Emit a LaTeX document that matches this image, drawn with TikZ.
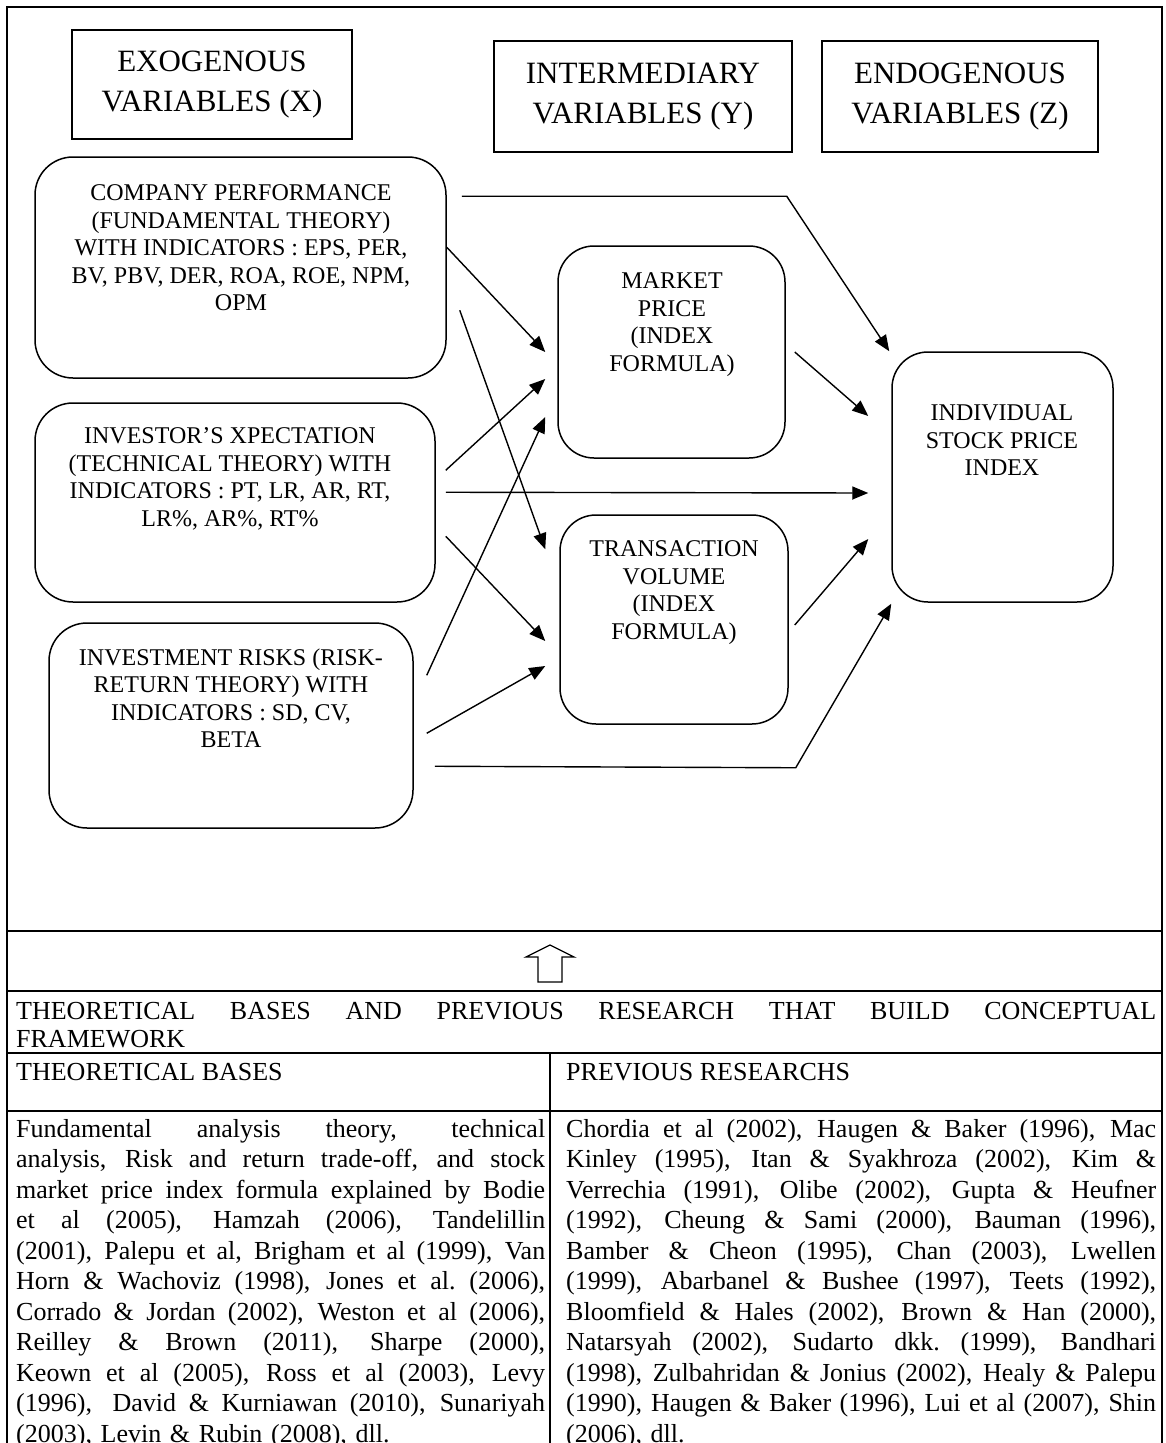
\documentclass[tikz,border=0pt]{standalone}
\usepackage{fontspec}
\setmainfont{Liberation Serif}
\usetikzlibrary{arrows.meta,calc}
\newcommand\jline[2]{\makebox[#1][s]{\spaceskip=0pt\xspaceskip=0pt\relax#2}}
\begin{document}
\begin{tikzpicture}[x=1pt,y=-1pt,
  hdr/.style={draw, line width=1.4pt, inner sep=0pt, align=center, font=\fontsize{31}{40}\selectfont},
  rbox/.style={draw, line width=1.5pt, rounded corners=38pt, inner sep=0pt},
  btxt/.style={anchor=north, inner sep=0pt, align=center, font=\fontsize{24}{27.5}\selectfont},
  arr/.style={line width=1.4pt, -{Triangle[length=16pt,width=13pt]}},
  ttxt/.style={anchor=north west, inner sep=0pt, align=left, font=\fontsize{26}{30.5}\selectfont},
  rule/.style={line width=2.4pt},
]
\useasboundingbox (0,0) rectangle (1166,1443);

% frame and table rules
\draw[line width=2pt] (7,1460) -- (7,7) -- (1162,7) -- (1162,1460);
\draw[rule] (7,931) -- (1162,931);
\draw[rule] (7,991) -- (1162,991);
\draw[rule] (7,1053) -- (1162,1053);
\draw[rule] (7,1111) -- (1162,1111);
\draw[line width=1.5pt] (550,1053) -- (550,1460);

% header boxes
\node[hdr, minimum width=280pt, minimum height=109pt] (exo) at (212,84.5) {EXOGENOUS\\VARIABLES (X)};
\node[hdr, minimum width=298pt, minimum height=111pt] (inter) at (643,96.5) {INTERMEDIARY\\VARIABLES (Y)};
\node[hdr, minimum width=276pt, minimum height=111pt] (endo) at (960,96.5) {ENDOGENOUS\\VARIABLES (Z)};

% rounded boxes
\node[rbox, minimum width=411pt, minimum height=221pt] (comp) at (240.5,267.5) {};
\node[rbox, minimum width=400pt, minimum height=199pt] (inv) at (235,502.5) {};
\node[rbox, minimum width=364pt, minimum height=205pt] (risk) at (231,725.5) {};
\node[rbox, minimum width=227pt, minimum height=212pt, rounded corners=36pt] (mp) at (671.5,352) {};
\node[rbox, minimum width=228pt, minimum height=209pt, rounded corners=36pt] (tv) at (674,619.5) {};
\node[rbox, minimum width=221pt, minimum height=250pt, rounded corners=36pt] (ind) at (1002.5,477) {};

% box texts
\node[btxt] (compt) at (241,184.5) {COMPANY PERFORMANCE\\(FUNDAMENTAL THEORY)\\WITH INDICATORS : EPS, PER,\\BV, PBV, DER, ROA, ROE, NPM,\\OPM};
\node[btxt] (invt) at (230,427.5) {INVESTOR’S XPECTATION\\(TECHNICAL THEORY) WITH\\INDICATORS : PT, LR, AR, RT,\\LR\%, AR\%, RT\%};
\node[btxt] (riskt) at (231,648.5) {INVESTMENT RISKS (RISK-\\RETURN THEORY) WITH\\INDICATORS : SD, CV,\\BETA};
\node[btxt] (mpt) at (672,272.5) {MARKET\\PRICE\\(INDEX\\FORMULA)};
\node[btxt] (tvt) at (674,540.5) {TRANSACTION\\VOLUME\\(INDEX\\FORMULA)};
\node[btxt] (indt) at (1002,404.5) {INDIVIDUAL\\STOCK PRICE\\INDEX};

% connectors
\draw[arr] ($(comp.north east)+(15,40)$) -- ($(mp.north east)+(1,-49)$) -- ($(ind.north west)+(-2,0)$);
\draw[arr] ($(comp.north east)+(0,91)$) -- ($(mp.west)+(-12,0)$);
\draw[arr] ($(comp.north east)+(13,154)$) -- ($(tv.north west)+(-14,35)$);
\draw[arr] ($(inv.north east)+(10,68)$) -- ($(mp.west)+(-12,27)$);
\draw[arr] ($(inv.north east)+(10,90)$) -- ($(ind.west)+(-23,16)$);
\draw[arr] ($(inv.north east)+(10,134)$) -- ($(tv.west)+(-14,21.5)$);
\draw[arr] ($(risk.north east)+(13,53)$) -- ($(mp.west)+(-12,65)$);
\draw[arr] ($(risk.north east)+(13,111)$) -- ($(tv.west)+(-14,46.5)$);
\draw[arr] ($(risk.north east)+(21,144)$) -- ($(tv.south east)+(7,43)$) -- ($(ind.south west)+(0,1)$);
\draw[arr] ($(mp.east)+(9,0)$) -- ($(ind.west)+(-23,-61)$);
\draw[arr] ($(tv.east)+(6,5.5)$) -- ($(ind.west)+(-23,62)$);

% hollow up arrow
\draw[line width=1.3pt, fill=white] (550,945) -- (574,957) -- (562,957) -- (562,982) -- (538,982) -- (538,957) -- (526,957) -- cycle;

% table texts
\node[ttxt, text width=1140pt, font=\fontsize{26}{28}\selectfont] (head) at (16,1002) {\jline{1140pt}{THEORETICAL BASES AND PREVIOUS RESEARCH THAT BUILD CONCEPTUAL}\\FRAMEWORK};
\node[ttxt] (thb) at (16,1063) {THEORETICAL BASES};
\node[ttxt] (prh) at (566,1063) {PREVIOUS RESEARCHS};
\node[ttxt, text width=529pt] (lbody) at (16,1119) {%
\jline{529pt}{Fundamental analysis theory, technical}\\
\jline{529pt}{analysis, Risk and return trade-off, and stock}\\
\jline{529pt}{market price index formula explained by Bodie}\\
\jline{529pt}{et al (2005), Hamzah (2006), Tandelillin}\\
\jline{529pt}{(2001), Palepu et al, Brigham et al (1999), Van}\\
\jline{529pt}{Horn \& Wachoviz (1998), Jones et al.\ (2006),}\\
\jline{529pt}{Corrado \& Jordan (2002), Weston et al (2006),}\\
\jline{529pt}{Reilley \& Brown (2011), Sharpe (2000),}\\
\jline{529pt}{Keown et al (2005), Ross et al (2003), Levy}\\
\jline{529pt}{(1996),\hspace{0.25em} David \& Kurniawan (2010), Sunariyah}\\
(2003), Levin \& Rubin (2008), dll.};
\node[ttxt, text width=590pt] (rbody) at (566,1119) {%
\jline{590pt}{Chordia et al (2002), Haugen \& Baker (1996), Mac}\\
\jline{590pt}{Kinley (1995), Itan \& Syakhroza (2002), Kim \&}\\
\jline{590pt}{Verrechia (1991), Olibe (2002), Gupta \& Heufner}\\
\jline{590pt}{(1992), Cheung \& Sami (2000), Bauman (1996),}\\
\jline{590pt}{Bamber \& Cheon (1995), Chan (2003), Lwellen}\\
\jline{590pt}{(1999), Abarbanel \& Bushee (1997), Teets (1992),}\\
\jline{590pt}{Bloomfield \& Hales (2002), Brown \& Han (2000),}\\
\jline{590pt}{Natarsyah (2002), Sudarto dkk.\ (1999), Bandhari}\\
\jline{590pt}{(1998), Zulbahridan \& Jonius (2002), Healy \& Palepu}\\
\jline{590pt}{(1990), Haugen \& Baker (1996), Lui et al (2007), Shin}\\
(2006), dll.};
\end{tikzpicture}
\end{document}
